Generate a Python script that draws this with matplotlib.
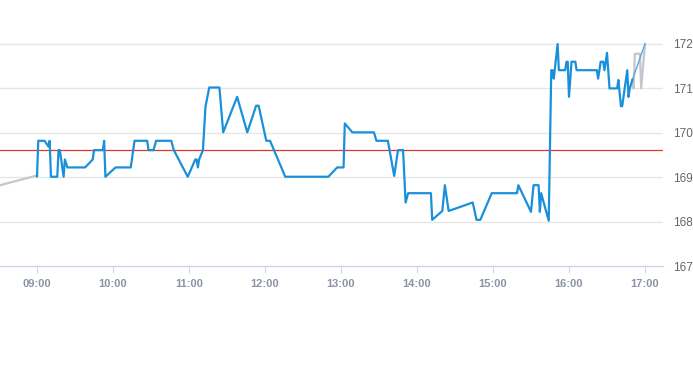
import numpy as np
import matplotlib
matplotlib.use("Agg")
import matplotlib.pyplot as plt
from matplotlib.ticker import FixedLocator, FuncFormatter

# intraday price (regular session)
times = ["09:00", "09:01", "09:06", "09:09", "09:10", "09:11", "09:16", "09:17", "09:18", "09:21",
         "09:22", "09:24", "09:38", "09:44", "09:45", "09:52", "09:53", "09:54", "10:02", "10:14",
         "10:17", "10:27", "10:28", "10:32", "10:34", "10:46", "10:48", "10:59", "11:05", "11:06",
         "11:07", "11:08", "11:11", "11:13", "11:16", "11:24", "11:27", "11:38", "11:46", "11:53",
         "11:55", "12:01", "12:04", "12:16", "12:50", "12:57", "13:02", "13:03", "13:09", "13:26",
         "13:28", "13:37", "13:42", "13:45", "13:49", "13:51", "13:53", "14:11", "14:12", "14:20",
         "14:22", "14:25", "14:44", "14:47", "14:50", "14:59", "15:19", "15:20", "15:30", "15:32",
         "15:36", "15:37", "15:38", "15:44", "15:46", "15:47", "15:48", "15:51", "15:52", "15:57",
         "15:58", "15:59", "16:00", "16:02", "16:05", "16:06", "16:22", "16:23", "16:25", "16:27",
         "16:28", "16:29", "16:30", "16:32", "16:38", "16:39", "16:41", "16:42", "16:46", "16:47",
         "16:48", "16:50"]
prices = [169.02, 169.82, 169.82, 169.69, 169.82, 169.01, 169.01, 169.61, 169.61, 169.01,
          169.40, 169.22, 169.22, 169.40, 169.61, 169.61, 169.82, 169.01, 169.22, 169.22,
          169.82, 169.82, 169.61, 169.61, 169.82, 169.82, 169.61, 169.01, 169.40, 169.40,
          169.22, 169.40, 169.61, 170.59, 171.02, 171.02, 170.01, 170.81, 170.01, 170.61,
          170.61, 169.82, 169.82, 169.01, 169.01, 169.22, 169.22, 170.21, 170.01, 170.01,
          169.82, 169.82, 169.03, 169.61, 169.61, 168.43, 168.64, 168.64, 168.04, 168.24,
          168.82, 168.24, 168.43, 168.04, 168.04, 168.64, 168.64, 168.82, 168.22, 168.82,
          168.82, 168.22, 168.64, 168.02, 171.41, 171.41, 171.22, 172.00, 171.41, 171.41,
          171.60, 171.60, 170.81, 171.60, 171.60, 171.41, 171.41, 171.22, 171.60, 171.60,
          171.41, 171.60, 171.80, 171.00, 171.00, 171.19, 170.60, 170.60, 171.41, 170.81,
          171.00, 171.19]

# pre-market / after-hours
pre_times = ["08:31", "09:00"]
pre_prices = [168.82, 169.04]
post_times = ["16:50", "16:51", "16:52", "16:54", "16:56", "16:57", "17:00"]
post_prices = [171.19, 171.00, 171.78, 171.78, 171.78, 171.00, 172.00]
link_times = ["16:50", "17:00"]
link_prices = [171.19, 172.00]

prev_close = 169.61
tick_hours = [9, 10, 11, 12, 13, 14, 15, 16, 17]
y_ticks = [167, 168, 169, 170, 171, 172]


def to_hours(labels):
    return np.array([int(s[:2]) + int(s[3:]) / 60 for s in labels])


fig = plt.figure(figsize=(6.93, 3.65), dpi=100)
ax = fig.add_axes([0, 0.2712, 663 / 693, 0.6466])

ax.set_xlim(8.513, 17.237)
ax.set_ylim(167, 172.315)

for y in y_ticks[1:]:
    ax.axhline(y, color="#e6e6e6", lw=1, zorder=0)
ax.axhline(prev_close, color="#d83a2e", lw=0.9, zorder=1)

ax.plot(to_hours(pre_times), pre_prices, color="#c3c7cd", lw=1.6, zorder=2)
ax.plot(to_hours(post_times), post_prices, color="#c3c7cd", lw=1.6, zorder=2)
ax.plot(to_hours(link_times), link_prices, color="#5aa9dc", lw=1.0, zorder=3)
ax.plot(to_hours(times), prices, color="#1a90db", lw=1.6, zorder=4,
        solid_joinstyle="round")

for side in ["top", "left", "right"]:
    ax.spines[side].set_visible(False)
ax.spines["bottom"].set_color("#ccd6eb")
ax.spines["bottom"].set_linewidth(1)

ax.xaxis.set_major_locator(FixedLocator(tick_hours))
ax.xaxis.set_major_formatter(FuncFormatter(lambda v, p: f"{int(round(v)):02d}:00"))
ax.tick_params(axis="x", length=5, color="#ccd6eb", pad=4, labelsize=8,
               labelcolor="#8a94a4")
for lab in ax.get_xticklabels():
    lab.set_fontfamily("Liberation Sans")
    lab.set_fontweight("bold")

ax.yaxis.tick_right()
ax.yaxis.set_major_locator(FixedLocator(y_ticks))
ax.tick_params(axis="y", length=0, pad=7, labelsize=8.5, labelcolor="#666666")
for lab in ax.get_yticklabels():
    lab.set_fontfamily("Liberation Sans")

fig.savefig("out.png", dpi=100, facecolor="white")
